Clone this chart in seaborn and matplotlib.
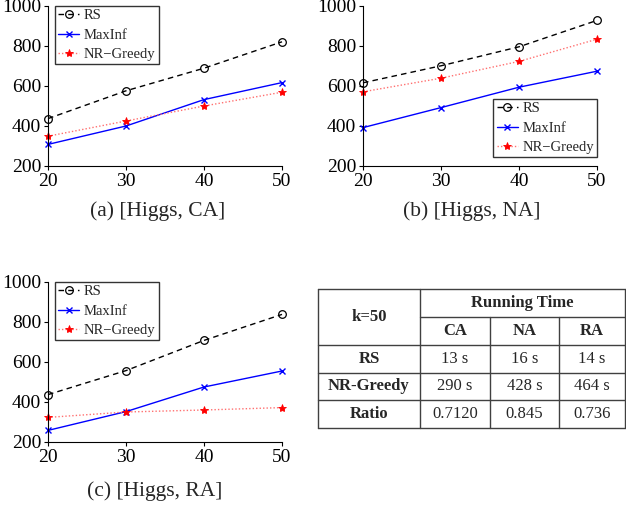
"""Higgs influence spread vs k, three seeding settings, plus timing table."""

import matplotlib

matplotlib.use("Agg")
import matplotlib.pyplot as plt
import pandas as pd
import seaborn as sns

K_VALUES = [20, 30, 40, 50]
METHODS = ["RS", "MaxInf", "NR\u2212Greedy"]

# spread values per panel, in METHODS order
CA_RS = [437, 576, 689, 821]
CA_MAXINF = [308, 400, 532, 617]
CA_NRGREEDY = [349, 425, 500, 569]

NA_RS = [616, 701, 796, 928]
NA_MAXINF = [392, 492, 594, 674]
NA_NRGREEDY = [571, 639, 723, 834]

RA_RS = [437, 557, 708, 838]
RA_MAXINF = [258, 352, 475, 555]
RA_NRGREEDY = [323, 350, 360, 372]

CAPTIONS = ["(a) [Higgs, CA]", "(b) [Higgs, NA]", "(c) [Higgs, RA]"]

# running time table
TABLE_CORNER = "k=50"
TABLE_GROUP = "Running Time"
TABLE_COLS = ["CA", "NA", "RA"]
TABLE_ROWS = ["RS", "NR-Greedy", "Ratio"]
TABLE_CELLS = [
    ["13 s", "16 s", "14 s"],
    ["290 s", "428 s", "464 s"],
    ["0.7120", "0.845", "0.736"],
]

STYLES = {
    "RS": dict(color="black", marker="o", linestyle=(0, (4, 3)), mfc="none", mec="black",
               ms=5.5, mew=0.9, lw=1.0),
    "MaxInf": dict(color="#0000ff", marker="x", linestyle="-", mec="#0000ff",
                   ms=4, mew=1.0, lw=1.0),
    "NR\u2212Greedy": dict(color="#ff7070", marker="*", linestyle=(0, (1, 1.5)), mfc="red",
                           mec="red", ms=6, mew=0.6, lw=1.0),
}

sns.set_theme(style="ticks")
plt.rcParams["font.family"] = ["Liberation Serif", "DejaVu Serif"]

fig = plt.figure(figsize=(6.26, 5.12), dpi=100)
W, H = 626, 512


def px_axes(left, top, right, bottom):
    return fig.add_axes([left / W, 1 - bottom / H, (right - left) / W, (bottom - top) / H])


def draw_panel(ax, rs, maxinf, nrg, legend_loc):
    df = pd.DataFrame({
        "k": K_VALUES * 3,
        "spread": rs + maxinf + nrg,
        "method": [m for m in METHODS for _ in K_VALUES],
    })
    for m in METHODS:
        sub = df[df["method"] == m]
        sns.lineplot(data=sub, x="k", y="spread", ax=ax, label=m, clip_on=False, **STYLES[m])
    ax.set_xlim(20, 50)
    ax.set_ylim(200, 1000)
    ax.set_xticks(K_VALUES)
    ax.set_yticks([200, 400, 600, 800, 1000])
    ax.set_xlabel("")
    ax.set_ylabel("")
    for s in ["top", "right"]:
        ax.spines[s].set_visible(False)
    for s in ["left", "bottom"]:
        ax.spines[s].set_color("black")
        ax.spines[s].set_linewidth(0.8)
    ax.tick_params(labelsize=14, length=3, width=0.8, color="black", pad=2)
    for lab in ax.get_xticklabels() + ax.get_yticklabels():
        lab.set_color("black")
    if legend_loc == "upper left":
        anchor = (0.03, 1.0)
    else:
        anchor = (1.0, 0.055)
    leg = ax.legend(loc=legend_loc, bbox_to_anchor=anchor, borderaxespad=0.0,
                    fontsize=10.5, frameon=True, fancybox=False,
                    borderpad=0.22, labelspacing=0.42, handlelength=1.45,
                    handletextpad=0.3)
    leg.get_frame().set_edgecolor("black")
    leg.get_frame().set_linewidth(1.0)
    return ax


ax_a = px_axes(48, 6, 282, 166)
draw_panel(ax_a, CA_RS, CA_MAXINF, CA_NRGREEDY, "upper left")
ax_b = px_axes(363, 6, 597, 166)
draw_panel(ax_b, NA_RS, NA_MAXINF, NA_NRGREEDY, "lower right")
ax_c = px_axes(48, 282, 282, 442)
draw_panel(ax_c, RA_RS, RA_MAXINF, RA_NRGREEDY, "upper left")

fig.text(158 / W, 1 - 211 / H, CAPTIONS[0], ha="center", va="center", fontsize=15.5)
fig.text(472 / W, 1 - 211 / H, CAPTIONS[1], ha="center", va="center", fontsize=15.5)
fig.text(155 / W, 1 - 491 / H, CAPTIONS[2], ha="center", va="center", fontsize=15.5)

# table drawn in pixel coordinates
tax = fig.add_axes([0, 0, 1, 1])
tax.set_xlim(0, W)
tax.set_ylim(H, 0)
tax.axis("off")
tax.patch.set_alpha(0)

col_x = [318, 420, 490, 559, 625]
row_y = [289, 317, 345, 373, 400, 428]
lc = "0.25"
lw = 1.0
for y in [row_y[0], row_y[2], row_y[3], row_y[4], row_y[5]]:
    tax.plot([col_x[0], col_x[-1]], [y, y], color=lc, lw=lw)
tax.plot([col_x[1], col_x[-1]], [row_y[1], row_y[1]], color=lc, lw=lw)
tax.plot([col_x[0], col_x[0]], [row_y[0], row_y[-1]], color=lc, lw=lw)
tax.plot([col_x[-1], col_x[-1]], [row_y[0], row_y[-1]], color=lc, lw=lw)
tax.plot([col_x[1], col_x[1]], [row_y[0], row_y[-1]], color=lc, lw=lw)
for x in col_x[2:4]:
    tax.plot([x, x], [row_y[1], row_y[-1]], color=lc, lw=lw)

fs = 12
tax.text((col_x[0] + col_x[1]) / 2, (row_y[0] + row_y[2]) / 2, TABLE_CORNER,
         ha="center", va="center", fontsize=fs, fontweight="bold")
tax.text((col_x[1] + col_x[-1]) / 2, (row_y[0] + row_y[1]) / 2, TABLE_GROUP,
         ha="center", va="center", fontsize=fs, fontweight="bold")
for j, c in enumerate(TABLE_COLS):
    tax.text((col_x[j + 1] + col_x[j + 2]) / 2, (row_y[1] + row_y[2]) / 2, c,
             ha="center", va="center", fontsize=fs, fontweight="bold")
for i, r in enumerate(TABLE_ROWS):
    yc = (row_y[i + 2] + row_y[i + 3]) / 2
    tax.text((col_x[0] + col_x[1]) / 2, yc, r, ha="center", va="center",
             fontsize=fs, fontweight="bold")
    for j, v in enumerate(TABLE_CELLS[i]):
        tax.text((col_x[j + 1] + col_x[j + 2]) / 2, yc, v, ha="center", va="center", fontsize=fs)

fig.savefig("out.png", dpi=100)
